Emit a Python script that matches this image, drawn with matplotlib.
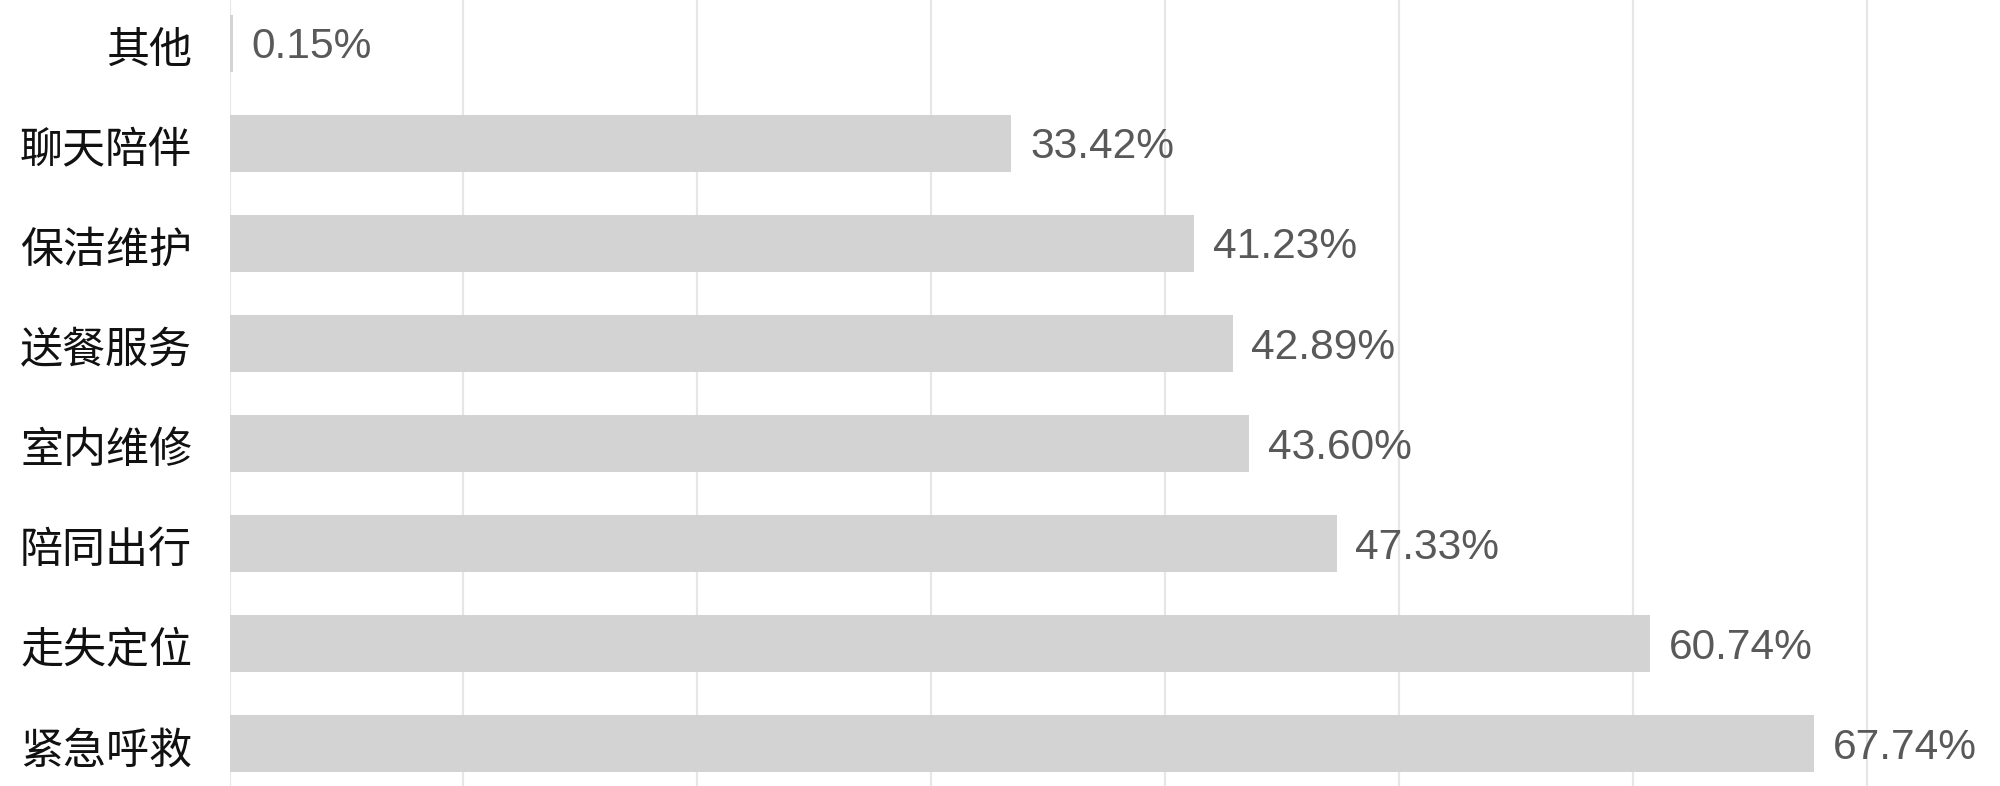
""" Horizontal bar chart of service demand shares """

import matplotlib
matplotlib.use('Agg')
import matplotlib.pyplot as plt
import matplotlib.transforms as mtransforms

plt.rcParams['font.family'] = ['Noto Sans CJK SC', 'DejaVu Sans']

categories = ['其他', '聊天陪伴', '保洁维护', '送餐服务', '室内维修', '陪同出行', '走失定位', '紧急呼救']
values = [0.15, 33.42, 41.23, 42.89, 43.60, 47.33, 60.74, 67.74]
value_labels = ['0.15%', '33.42%', '41.23%', '42.89%', '43.60%', '47.33%', '60.74%', '67.74%']

fig = plt.figure(figsize=(20, 7.86), dpi=100)
ax = fig.add_axes([0.1148, 0, 1 - 0.1148, 1])

positions = list(range(len(categories)))
ax.barh(positions, values, height=0.57, color='#d3d3d3', zorder=2)

for pos, val, lab in zip(positions, values, value_labels):
    ax.annotate(lab, xy=(val, pos), xytext=(13.5, -3), textcoords='offset points',
                ha='left', va='center', fontsize=30.6, color='#595959',
                family=['Liberation Sans', 'DejaVu Sans'])

ax.set_xlim(0, 75.7)
ax.set_ylim(7.42, -0.43)
ax.set_xticks([0, 10, 20, 30, 40, 50, 60, 70])
ax.set_xticklabels([])
ax.tick_params(axis='x', length=0)
ax.grid(axis='x', color='#e6e6e6', linewidth=1.6, zorder=0)

ax.set_yticks(positions)
ax.set_yticklabels(categories, fontsize=31, color='#111111')
ax.tick_params(axis='y', length=0, pad=27)
shift = mtransforms.ScaledTranslation(0, -2 / 72, fig.dpi_scale_trans)
for lbl in ax.get_yticklabels():
    lbl.set_transform(lbl.get_transform() + shift)

for s in ax.spines.values():
    s.set_visible(False)

plt.savefig('out.png', dpi=100)
